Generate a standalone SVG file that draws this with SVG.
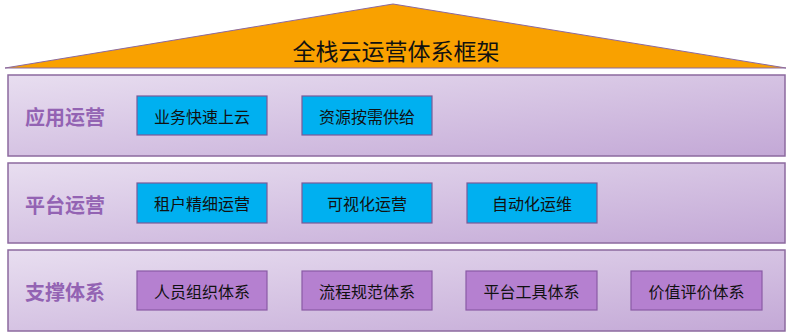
<svg xmlns="http://www.w3.org/2000/svg" width="792" height="335" viewBox="0 0 792 335">
<defs>
<linearGradient id="band" x1="0" y1="0" x2="1" y2="1">
<stop offset="0" stop-color="#e8def0"/>
<stop offset="1" stop-color="#c3a8d6"/>
</linearGradient>
<style>
.band{fill:url(#band);stroke:#8c6a9f;stroke-width:1.5}
.lbl{font-family:"Noto Sans CJK SC","Noto Sans",sans-serif;font-size:20px;font-weight:bold;fill:#9363b3;text-anchor:middle;dominant-baseline:central}
.blue{fill:#00b0f0;stroke:#7a5a98;stroke-width:1.2}
.purp{fill:#b580d0;stroke:#8a5aa6;stroke-width:1.2}
.txt{font-family:"Noto Sans CJK SC","Noto Sans",sans-serif;font-size:16px;fill:#111;text-anchor:middle;dominant-baseline:central}
.title{font-family:"Noto Sans CJK SC","Noto Sans",sans-serif;font-size:23px;fill:#111;text-anchor:middle;dominant-baseline:central}
</style>
</defs>
<rect width="792" height="335" fill="#ffffff"/>
<g id="roof">
<polygon points="393,4 786,68 5,68" fill="#f9a100" stroke="#8c6a9f" stroke-width="1"/>
<text class="title" x="396" y="50">全栈云运营体系框架</text>
</g>
<g id="band-app">
<rect class="band" x="8" y="75" width="777" height="81"/>
<text class="lbl" x="65" y="116">应用运营</text>
</g>
<g id="band-platform">
<rect class="band" x="8" y="163" width="777" height="80"/>
<text class="lbl" x="65" y="204">平台运营</text>
</g>
<g id="band-support">
<rect class="band" x="8" y="250" width="777" height="81"/>
<text class="lbl" x="65" y="291">支撑体系</text>
</g>
<g id="n1"><rect class="blue" x="137" y="96" width="130" height="39"/><text class="txt" x="202" y="115.5">业务快速上云</text></g>
<g id="n2"><rect class="blue" x="302" y="96" width="130" height="39"/><text class="txt" x="367" y="115.5">资源按需供给</text></g>
<g id="n3"><rect class="blue" x="137" y="183" width="130" height="40"/><text class="txt" x="202" y="203">租户精细运营</text></g>
<g id="n4"><rect class="blue" x="302" y="183" width="130" height="40"/><text class="txt" x="367" y="203">可视化运营</text></g>
<g id="n5"><rect class="blue" x="467" y="183" width="130" height="40"/><text class="txt" x="532" y="203">自动化运维</text></g>
<g id="n6"><rect class="purp" x="137" y="271" width="130" height="39"/><text class="txt" x="202" y="290.5">人员组织体系</text></g>
<g id="n7"><rect class="purp" x="302" y="271" width="130" height="39"/><text class="txt" x="367" y="290.5">流程规范体系</text></g>
<g id="n8"><rect class="purp" x="466" y="271" width="131" height="39"/><text class="txt" x="531.5" y="290.5">平台工具体系</text></g>
<g id="n9"><rect class="purp" x="631" y="271" width="131" height="39"/><text class="txt" x="696.5" y="290.5">价值评价体系</text></g>
<g id="connectors"></g>
</svg>
